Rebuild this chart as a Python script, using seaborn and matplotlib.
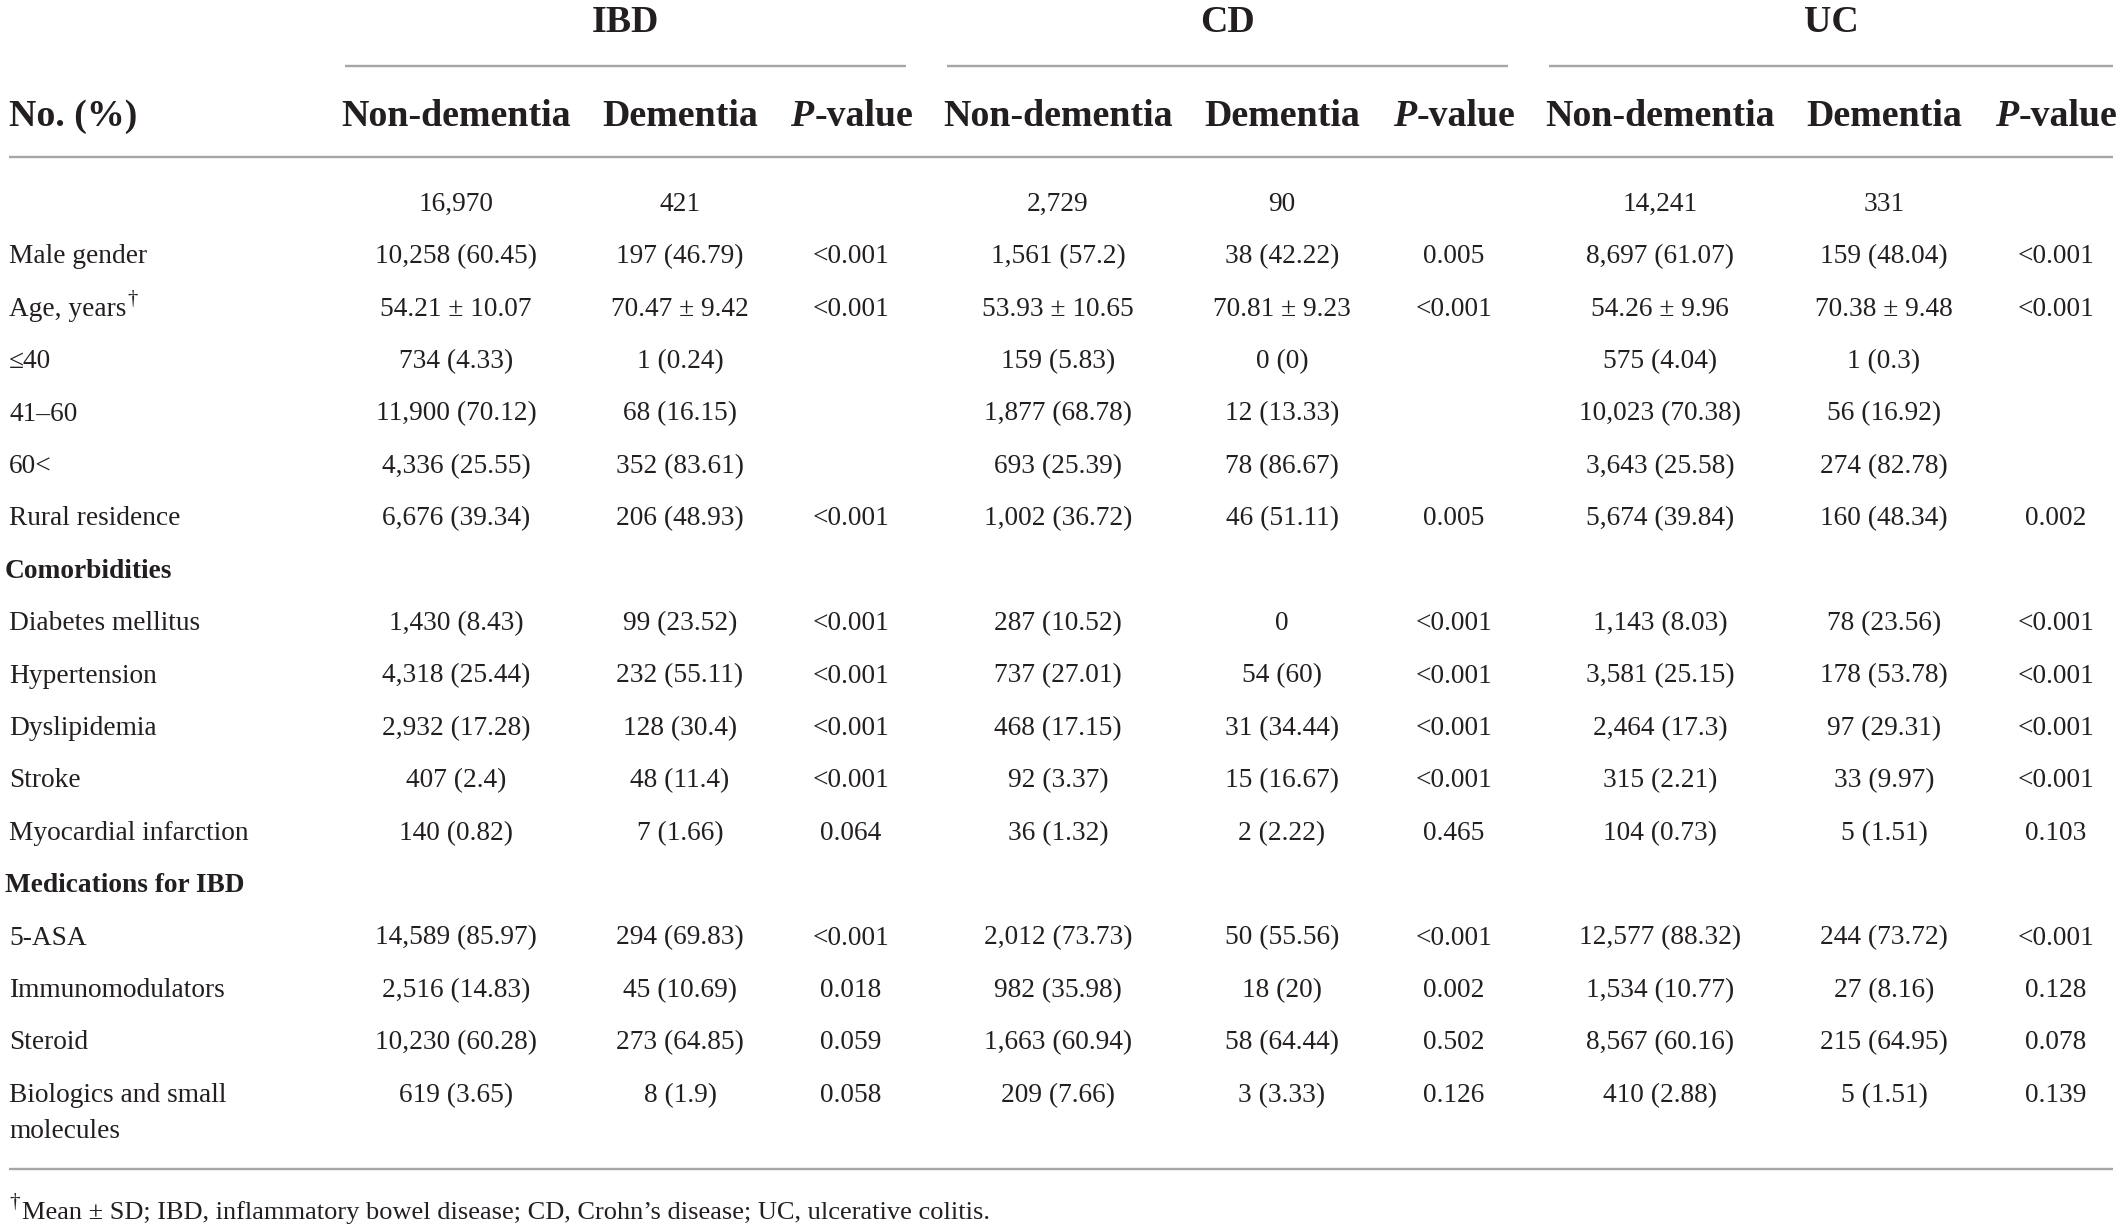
import matplotlib
matplotlib.use("Agg")
import matplotlib.pyplot as plt
import seaborn as sns
import pandas as pd

# ---------------- data ----------------
groups = ["IBD", "CD", "UC"]
sub_headers = ["Non-dementia", "Dementia", "P-value"]
stub_header = "No. (%)"
row_labels = ["", "Male gender", "Age, years", "\u226440", "41\u201360", "60<", "Rural residence",
              "Comorbidities", "Diabetes mellitus", "Hypertension", "Dyslipidemia", "Stroke",
              "Myocardial infarction", "Medications for IBD", "5-ASA", "Immunomodulators",
              "Steroid", "Biologics and small\nmolecules"]
section_rows = ["Comorbidities", "Medications for IBD"]
dagger_rows = ["Age, years"]

ibd_nd = ["16,970", "10,258 (60.45)", "54.21 \u00b1 10.07", "734 (4.33)", "11,900 (70.12)", "4,336 (25.55)",
          "6,676 (39.34)", "", "1,430 (8.43)", "4,318 (25.44)", "2,932 (17.28)", "407 (2.4)", "140 (0.82)",
          "", "14,589 (85.97)", "2,516 (14.83)", "10,230 (60.28)", "619 (3.65)"]
ibd_d = ["421", "197 (46.79)", "70.47 \u00b1 9.42", "1 (0.24)", "68 (16.15)", "352 (83.61)", "206 (48.93)",
         "", "99 (23.52)", "232 (55.11)", "128 (30.4)", "48 (11.4)", "7 (1.66)", "", "294 (69.83)",
         "45 (10.69)", "273 (64.85)", "8 (1.9)"]
ibd_p = ["", "<0.001", "<0.001", "", "", "", "<0.001", "", "<0.001", "<0.001", "<0.001", "<0.001",
         "0.064", "", "<0.001", "0.018", "0.059", "0.058"]
cd_nd = ["2,729", "1,561 (57.2)", "53.93 \u00b1 10.65", "159 (5.83)", "1,877 (68.78)", "693 (25.39)",
         "1,002 (36.72)", "", "287 (10.52)", "737 (27.01)", "468 (17.15)", "92 (3.37)", "36 (1.32)", "",
         "2,012 (73.73)", "982 (35.98)", "1,663 (60.94)", "209 (7.66)"]
cd_d = ["90", "38 (42.22)", "70.81 \u00b1 9.23", "0 (0)", "12 (13.33)", "78 (86.67)", "46 (51.11)", "",
        "0", "54 (60)", "31 (34.44)", "15 (16.67)", "2 (2.22)", "", "50 (55.56)", "18 (20)",
        "58 (64.44)", "3 (3.33)"]
cd_p = ["", "0.005", "<0.001", "", "", "", "0.005", "", "<0.001", "<0.001", "<0.001", "<0.001",
        "0.465", "", "<0.001", "0.002", "0.502", "0.126"]
uc_nd = ["14,241", "8,697 (61.07)", "54.26 \u00b1 9.96", "575 (4.04)", "10,023 (70.38)", "3,643 (25.58)",
         "5,674 (39.84)", "", "1,143 (8.03)", "3,581 (25.15)", "2,464 (17.3)", "315 (2.21)", "104 (0.73)",
         "", "12,577 (88.32)", "1,534 (10.77)", "8,567 (60.16)", "410 (2.88)"]
uc_d = ["331", "159 (48.04)", "70.38 \u00b1 9.48", "1 (0.3)", "56 (16.92)", "274 (82.78)", "160 (48.34)",
        "", "78 (23.56)", "178 (53.78)", "97 (29.31)", "33 (9.97)", "5 (1.51)", "", "244 (73.72)",
        "27 (8.16)", "215 (64.95)", "5 (1.51)"]
uc_p = ["", "<0.001", "<0.001", "", "", "", "0.002", "", "<0.001", "<0.001", "<0.001", "<0.001",
        "0.103", "", "<0.001", "0.128", "0.078", "0.139"]
footnote = "Mean \u00b1 SD; IBD, inflammatory bowel disease; CD, Crohn\u2019s disease; UC, ulcerative colitis."

table = pd.DataFrame({
    "label": row_labels,
    "IBD_nd": ibd_nd, "IBD_d": ibd_d, "IBD_p": ibd_p,
    "CD_nd": cd_nd, "CD_d": cd_d, "CD_p": cd_p,
    "UC_nd": uc_nd, "UC_d": uc_d, "UC_p": uc_p,
})
value_cols = ["IBD_nd", "IBD_d", "IBD_p", "CD_nd", "CD_d", "CD_p", "UC_nd", "UC_d", "UC_p"]

# ---------------- style / layout ----------------
sns.set_theme(style="white")
plt.rcParams["font.family"] = ["Liberation Serif", "DejaVu Serif"]
TXT = "#231f20"
RULE = "#a6a6a6"

W, H = 2121, 1229
fig = plt.figure(figsize=(W / 100, H / 100), dpi=100)
ax = fig.add_axes([0, 0, 1, 1])
ax.set_xlim(0, W)
ax.set_ylim(H, 0)
ax.axis("off")

col_x = [456, 680, 851, 1058, 1282, 1454, 1660, 1884, 2056]
span_x = [(345, 906), (947, 1508), (1549, 2113)]
left_x = 9
right_x = 2113
title_y = 22.5
span_y = 66
header_y = 117
header_rule_y = 157
row_y0 = 204.5
row_step = 52.4
bottom_rule_y = 1169
foot_y = 1213

HDR_FS = 27.3
BODY_FS = 19.7
FOOT_FS = 19.0

renderer = fig.canvas.get_renderer()

# group titles and spanner rules
for g, (x0, x1) in zip(groups, span_x):
    ax.text((x0 + x1) / 2, title_y, g, ha="center", va="center", fontsize=HDR_FS,
            fontweight="bold", color=TXT)
    ax.plot([x0, x1], [span_y, span_y], color=RULE, lw=1.7, solid_capstyle="butt")

# header row
ax.text(left_x, header_y, stub_header, ha="left", va="center", fontsize=HDR_FS,
        fontweight="bold", color=TXT)
for gi in range(len(groups)):
    for si, sh in enumerate(sub_headers):
        cx = col_x[gi * 3 + si]
        if sh.startswith("P-"):
            tp = ax.text(0, header_y, "P", ha="left", va="center", fontsize=HDR_FS,
                         fontweight="bold", fontstyle="italic", color=TXT)
            tr = ax.text(0, header_y, sh[1:], ha="left", va="center", fontsize=HDR_FS,
                         fontweight="bold", color=TXT)
            wp = tp.get_window_extent(renderer).width
            wr = tr.get_window_extent(renderer).width
            start = cx - (wp + wr) / 2
            tp.set_x(start)
            tr.set_x(start + wp + 1)
        else:
            ax.text(cx, header_y, sh, ha="center", va="center", fontsize=HDR_FS,
                    fontweight="bold", color=TXT)

ax.plot([left_x, right_x], [header_rule_y, header_rule_y], color=RULE, lw=1.7,
        solid_capstyle="butt")

# body rows
for i, row in table.iterrows():
    y = row_y0 + i * row_step
    lab = row["label"]
    if lab:
        if lab in section_rows:
            ax.text(left_x - 4, y, lab, ha="left", va="center", fontsize=BODY_FS,
                    fontweight="bold", color=TXT)
        elif "\n" in lab:
            for k, part in enumerate(lab.split("\n")):
                ax.text(left_x, y + k * 36.5, part, ha="left", va="center",
                        fontsize=BODY_FS, color=TXT)
        else:
            t = ax.text(left_x, y, lab, ha="left", va="center", fontsize=BODY_FS, color=TXT)
            if lab in dagger_rows:
                ax.annotate("\u2020", xy=(1, 1), xycoords=t, xytext=(1, 5),
                            textcoords="offset points", ha="left", va="top",
                            fontsize=BODY_FS * 0.75, color=TXT)
    for cx, c in zip(col_x, value_cols):
        v = row[c]
        if v:
            ax.text(cx, y, v, ha="center", va="center", fontsize=BODY_FS, color=TXT)

ax.plot([left_x, right_x], [bottom_rule_y, bottom_rule_y], color=RULE, lw=1.7,
        solid_capstyle="butt")

# footnote
td = ax.text(left_x, foot_y - 10, "\u2020", ha="left", va="center", fontsize=FOOT_FS * 0.8, color=TXT)
wd = td.get_window_extent(renderer).width
ax.text(left_x + wd + 2, foot_y, footnote, ha="left", va="center", fontsize=FOOT_FS, color=TXT)

fig.savefig("out.png", dpi=100, facecolor="white")
